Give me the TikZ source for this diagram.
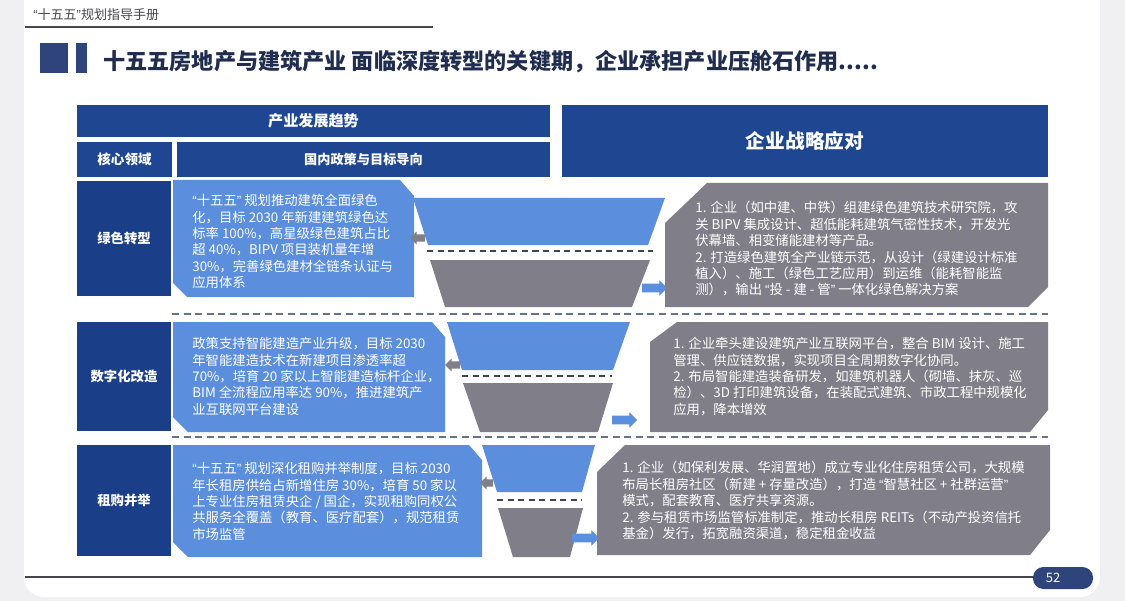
\documentclass[tikz,border=0pt]{standalone}
\usepackage{fontspec}
\setmainfont{Noto Sans CJK SC}
\newfontfamily\quotefont{Liberation Sans}
\XeTeXlinebreaklocale "zh"
\usetikzlibrary{shapes.arrows}

\definecolor{hdrblue}{RGB}{31,70,145}
\definecolor{lblblue}{RGB}{27,62,136}
\definecolor{boxblue}{RGB}{91,142,221}
\definecolor{boxgray}{RGB}{128,127,137}
\definecolor{titlenavy}{RGB}{33,45,78}
\definecolor{markblue}{RGB}{46,68,122}
\definecolor{pagebg}{RGB}{240,240,243}
\definecolor{dashgray}{RGB}{105,115,135}
\definecolor{rulegray}{RGB}{70,70,75}

% 窄引号
\newcommand\qopen{{\quotefont “}}
\newcommand\qclose{{\quotefont ”}}

\begin{document}
\begin{tikzpicture}[x=0.02cm, y=-0.02cm, % 1 像素 = 0.02cm, y 向下
    hdr/.style={fill=hdrblue, text=white, inner sep=0pt, font=\bfseries\fontsize{8.6}{10}\selectfont},
    lbl/.style={fill=lblblue, text=white, inner sep=0pt, minimum width=1.88cm, font=\bfseries\fontsize{7.6}{9}\selectfont},
    bodytxt/.style={text=white, inner sep=0pt, anchor=north west, align=left, font=\fontsize{7.6}{9.35}\selectfont},
    sepline/.style={dashgray, line width=1.1pt, dash pattern=on 4pt off 2.6pt},
    midline/.style={dashgray!60!black, line width=0.9pt, dash pattern=on 3.5pt off 2.5pt},
    garrow/.style={single arrow, fill=boxgray, inner xsep=0pt, inner ysep=0.065cm, single arrow head extend=0.055cm, minimum height=0.3cm, shape border rotate=180},
    barrow/.style={single arrow, fill=boxblue, inner xsep=0pt, inner ysep=0.08cm, single arrow head extend=0.07cm, minimum height=0.5cm}]

    % 页面底色
    \useasboundingbox (0,0) rectangle (1125,601);
    \fill[pagebg] (0,0) rectangle (1125,601);
    \fill[white, rounded corners=0.4cm] (24,-30) rectangle (1100,597);

    % 页眉与标题
    \node[anchor=west, inner sep=0pt, text=rulegray, font=\fontsize{7.4}{9}\selectfont] (booktitle) at (33,15) {\qopen 十五五\qclose 规划指导手册};
    \draw[rulegray, line width=0.6pt] (25,27) -- (433,27);
    \fill[markblue] (40,43) rectangle (68,73);
    \fill[markblue] (76,43) rectangle (87,73);
    \node[anchor=west, inner sep=0pt, text=titlenavy, font=\bfseries\fontsize{12.6}{14}\selectfont] (title) at (103,62) {十五五房地产与建筑产业 面临深度转型的关键期，企业承担产业压舱石作用.....};

    % 表头
    \node[hdr, minimum width=9.46cm, minimum height=0.64cm] (trend) at (313.5,121) {产业发展趋势};
    \node[hdr, minimum width=1.9cm, minimum height=0.7cm, font=\bfseries\fontsize{7.7}{9}\selectfont] (core) at (124.5,159.5) {核心领域};
    \node[hdr, minimum width=7.46cm, minimum height=0.7cm, font=\bfseries\fontsize{7.5}{9}\selectfont] (policy) at (363.5,159.5) {国内政策与目标导向};
    \node[hdr, minimum width=9.72cm, minimum height=1.44cm, font=\bfseries\fontsize{11.2}{13}\selectfont] (strategy) at (805,141) {企业战略应对};

    % 分隔虚线
    \draw[sepline] (172,314) -- (1048,314);
    \draw[sepline] (172,437) -- (1048,437);

    % 第一行: 绿色转型
    \node[lbl, minimum height=2.3cm] (green) at (124,238.5) {绿色转型};
    \fill[boxblue] (173,180) -- (400,180) -- (414,196) -- (414,297) -- (187,297) -- (173,283) -- cycle;
    \node[bodytxt] (greenpolicy) at (192,194) {\qopen 十五五\qclose{} 规划推动建筑全面绿色\\化，目标 2030 年新建建筑绿色达\\标率 100\%，高星级绿色建筑占比\\超 40\%，BIPV 项目装机量年增\\30\%，完善绿色建材全链条认证与\\应用体系};
    \fill[boxblue] (413,198) -- (665,198) -- (648,245) -- (428,245) -- cycle;
    \draw[midline] (427,251) -- (653,251);
    \fill[boxgray] (430,260) -- (650,260) -- (632,307) -- (445,307) -- cycle;
    \node[garrow] (greenback) at (419.5,238) {};
    \node[barrow] (greenout) at (652.5,288) {};
    \fill[boxgray] (665,223) -- (707,183) -- (1048,183) -- (1048,287) -- (1028,307) -- (665,307) -- cycle;
    \node[bodytxt] (greenplan) at (695,201) {1. 企业（如中建、中铁）组建绿色建筑技术研究院，攻\\关 BIPV 集成设计、超低能耗建筑气密性技术，开发光\\伏幕墙、相变储能建材等产品。\\2. 打造绿色建筑全产业链示范，从设计（绿建设计标准\\植入）、施工（绿色工艺应用）到运维（能耗智能监\\测），输出 \qopen 投 - 建 - 管\qclose{} 一体化绿色解决方案};

    % 第二行: 数字化改造
    \node[lbl, minimum height=2.18cm] (digital) at (124,376.5) {数字化改造};
    \fill[boxblue] (173,322) -- (432,322) -- (445,337) -- (445,432) -- (188,432) -- (173,417) -- cycle;
    \node[bodytxt] (digitalpolicy) at (192,337) {政策支持智能建造产业升级，目标 2030\\年智能建造技术在新建项目渗透率超\\70\%，培育 20 家以上智能建造标杆企业，\\BIM 全流程应用率达 90\%，推进建筑产\\业互联网平台建设};
    \fill[boxblue] (447,322) -- (630,322) -- (613,370) -- (462,370) -- cycle;
    \draw[midline] (462,376) -- (612,376);
    \fill[boxgray] (463,383) -- (613,383) -- (598,432) -- (480,432) -- cycle;
    \node[garrow] (digitalback) at (454.5,365) {};
    \node[barrow] (digitalout) at (622.5,420) {};
    \fill[boxgray] (650,342) -- (677,322) -- (1048,322) -- (1048,410) -- (1030,432) -- (650,432) -- cycle;
    \node[bodytxt] (digitalplan) at (673,337) {1. 企业牵头建设建筑产业互联网平台，整合 BIM 设计、施工\\管理、供应链数据，实现项目全周期数字化协同。\\2. 布局智能建造装备研发，如建筑机器人（砌墙、抹灰、巡\\检）、3D 打印建筑设备，在装配式建筑、市政工程中规模化\\应用，降本增效};

    % 第三行: 租购并举
    \node[lbl, minimum height=2.22cm] (rental) at (124,500.5) {租购并举};
    \fill[boxblue] (173,445) -- (469,445) -- (482,460) -- (482,557) -- (188,557) -- (173,542) -- cycle;
    \node[bodytxt] (rentalpolicy) at (192,462) {\qopen 十五五\qclose{} 规划深化租购并举制度，目标 2030\\年长租房供给占新增住房 30\%，培育 50 家以\\上专业住房租赁央企 / 国企，实现租购同权公\\共服务全覆盖（教育、医疗配套），规范租赁\\市场监管};
    \fill[boxblue] (482,445) -- (595,445) -- (582,492) -- (497,492) -- cycle;
    \draw[midline] (497,500) -- (582,500);
    \fill[boxgray] (498,508) -- (583,508) -- (570,557) -- (513,557) -- cycle;
    \node[garrow, minimum height=0.26cm] (rentalback) at (488.5,483) {};
    \node[barrow, minimum height=0.54cm] (rentalout) at (583.5,538) {};
    \fill[boxgray] (597,472) -- (625,445) -- (1050,445) -- (1050,530) -- (1030,555) -- (597,555) -- cycle;
    \node[bodytxt] (rentalplan) at (622,461) {1. 企业（如保利发展、华润置地）成立专业化住房租赁公司，大规模\\布局长租房社区（新建 + 存量改造），打造 \qopen 智慧社区 + 社群运营\qclose\\模式，配套教育、医疗共享资源。\\2. 参与租赁市场监管标准制定，推动长租房 REITs（不动产投资信托\\基金）发行，拓宽融资渠道，稳定租金收益};

    % 页脚与页码
    \draw[rulegray, line width=0.8pt] (25,577) -- (1035,577);
    \fill[markblue, rounded corners=0.21cm] (1033,567) rectangle (1093,589);
    \node[text=white, inner sep=0pt, font=\fontsize{7.4}{9}\selectfont] (pgno) at (1053,578) {52};

\end{tikzpicture}
\end{document}
